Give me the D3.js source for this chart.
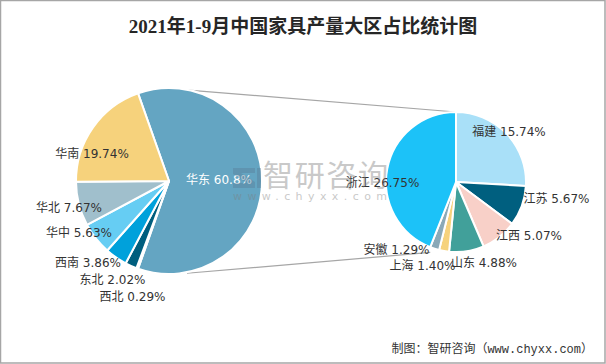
<!DOCTYPE html>
<html><head><meta charset="utf-8">
<script src="https://cdn.jsdelivr.net/npm/d3@7"></script>
<style>body{margin:0;background:#fff}svg{display:block}</style>
</head><body>
<script>
// ---- data ----
const mainCategories = ["华东","西北","东北","西南","华中","华北","华南"];
const mainValues     = [60.8, 0.29, 2.02, 3.86, 5.63, 7.67, 19.74];
const subCategories  = ["福建","江苏","江西","山东","上海","安徽","浙江"];
const subValues      = [15.74, 5.67, 5.07, 4.88, 1.40, 1.29, 26.75];
const mainLabels = ["华东 60.8%","西北 0.29%","东北 2.02%","西南 3.86%","华中 5.63%","华北 7.67%","华南 19.74%"];
const subLabels  = ["福建 15.74%","江苏 5.67%","江西 5.07%","山东 4.88%","上海 1.40%","安徽 1.29%","浙江 26.75%"];

// ---- styles / layout ----
const W=606,H=364;
const mainColors=["#64a5c2","#16577a","#005e7e","#00a1db","#66cdf3","#a0bfcc","#f6d27c"];
const subColors=["#a9e0f8","#005f7f","#f8d0c8","#41a09a","#f6d27c","#8aa9b8","#1cc2f8"];
const mainLabelOff=[[50,-1],[-36.5,116],[-56.5,99],[-81,82],[-90,52],[-100,27],[-77,-27]];
const subLabelOff=[[53,-50],[100.5,17],[73,54],[28,81],[-33.5,84],[-59.5,68],[-73.5,1]];
const C1={x:169,y:181,r:93}, C2={x:456,y:182,r:70};
const font='"DejaVu Sans","Noto Sans CJK SC",sans-serif';

const svg=d3.select("body").append("svg").attr("width",W).attr("height",H);
svg.append("rect").attr("x",0.5).attr("y",0.5).attr("width",W-1.5).attr("height",H-1.5)
  .attr("fill","#fff").attr("stroke","#a6a6a6").attr("stroke-width",1.5);

svg.append("text").attr("x",303).attr("y",33).attr("text-anchor","middle")
  .attr("font-family",'"Liberation Serif","Noto Sans CJK SC",serif').attr("font-weight","bold")
  .attr("font-size",19).attr("fill","#262626").text("2021年1-9月中国家具产量大区占比统计图");

const total=d3.sum(mainValues);
const splitShare=mainValues[0]/total;
const start1=Math.PI/2-splitShare*Math.PI;
const pie1=d3.pie().sort(null).startAngle(start1).endAngle(start1+2*Math.PI);
const pie2=d3.pie().sort(null).startAngle(0).endAngle(2*Math.PI);
const arcs1=pie1(mainValues), arcs2=pie2(subValues);

// connector lines
const pol=(c,a,r)=>[c.x+r*Math.sin(a), c.y-r*Math.cos(a)];
const deg=Math.PI/180;
const zj=arcs2[6];
const lines=[[pol(C1,12*deg,C1.r),pol(C2,zj.endAngle,C2.r)],[pol(C1,169*deg,C1.r+1),pol(C2,zj.startAngle-1.5*deg,C2.r+5)]];
svg.selectAll("line.conn").data(lines).join("line").attr("class","conn")
  .attr("x1",d=>d[0][0]).attr("y1",d=>d[0][1]).attr("x2",d=>d[1][0]).attr("y2",d=>d[1][1])
  .attr("stroke","#a6a6a6").attr("stroke-width",1.2);

const arc1=d3.arc().innerRadius(0).outerRadius(C1.r);
const arc2=d3.arc().innerRadius(0).outerRadius(C2.r);
const g1=svg.append("g").attr("transform",`translate(${C1.x},${C1.y})`);
g1.selectAll("path").data(arcs1).join("path").attr("d",arc1)
  .attr("fill",(d,i)=>mainColors[i]).attr("stroke","#fff").attr("stroke-width",2).attr("stroke-linejoin","round");
const g2=svg.append("g").attr("transform",`translate(${C2.x},${C2.y})`);
g2.selectAll("path").data(arcs2).join("path").attr("d",arc2)
  .attr("fill",(d,i)=>subColors[i]).attr("stroke","#fff").attr("stroke-width",2).attr("stroke-linejoin","round");

// watermark
const wm=svg.append("g").attr("opacity",0.42);
wm.append("path").attr("d","M233,168h22v5h-14l14,9v6h-22v-5h14l-14,-9z").attr("fill","#5a7f99");
wm.append("rect").attr("x",257).attr("y",168).attr("width",4).attr("height",20).attr("fill","#5a7f99");
wm.append("text").attr("x",263).attr("y",186).attr("font-family",'"Noto Sans CJK SC",sans-serif')
  .attr("font-size",30).attr("fill","#7f7f7f").attr("textLength",125).text("智研咨询");
wm.append("text").attr("x",233).attr("y",200).attr("font-family",font)
  .attr("font-size",11).attr("fill","#7f7f7f").attr("textLength",154).text("www.chyxx.com");

// labels
g1.selectAll("text").data(arcs1).join("text")
  .attr("x",(d,i)=>mainLabelOff[i][0]).attr("y",(d,i)=>mainLabelOff[i][1]).attr("dy","0.36em")
  .attr("text-anchor","middle").attr("font-family",font).attr("font-size",12)
  .attr("fill",(d,i)=>i===0?"#fff":"#333").text((d,i)=>mainLabels[i]);
g2.selectAll("text").data(arcs2).join("text")
  .attr("x",(d,i)=>subLabelOff[i][0]).attr("y",(d,i)=>subLabelOff[i][1]).attr("dy","0.36em")
  .attr("text-anchor","middle").attr("font-family",font).attr("font-size",12)
  .attr("fill","#333").text((d,i)=>subLabels[i]);

svg.append("text").attr("x",593).attr("y",353).attr("text-anchor","end")
  .attr("font-family",'"Liberation Mono","Noto Sans CJK SC",monospace').attr("font-size",12)
  .attr("fill","#333").text("制图：智研咨询（www.chyxx.com）");
</script>
</body></html>
